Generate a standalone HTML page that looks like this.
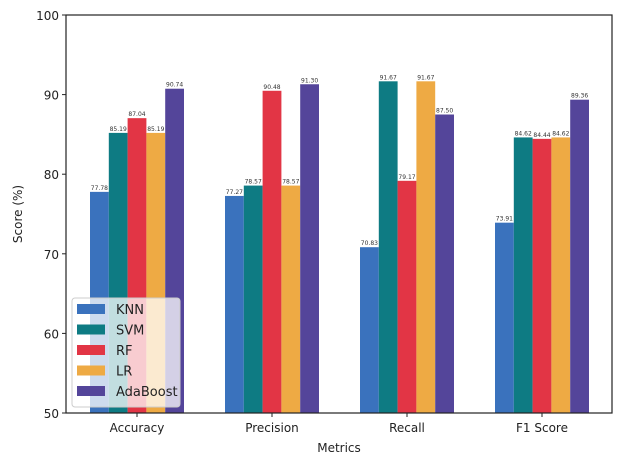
<!DOCTYPE html>
<html><head><meta charset="utf-8"><style>
body{margin:0;background:#fff;}
svg{font-family:"DejaVu Sans","Liberation Sans",sans-serif;}
</style></head><body>
<svg width="624" height="465">
<g id="plot"></g>
</svg>
<script>
const categories=["Accuracy","Precision","Recall","F1 Score"];
const seriesNames=["KNN","SVM","RF","LR","AdaBoost"];
const knn=[77.78,77.27,70.83,73.91];
const svm=[85.19,78.57,91.67,84.62];
const rf=[87.04,90.48,79.17,84.44];
const lr=[85.19,78.57,91.67,84.62];
const ada=[90.74,91.30,87.50,89.36];
const yTicks=[50,60,70,80,90,100];
const colors=["#3a72bd","#0e7b83","#e23545","#eeaa44","#54459a"];
const series=[knn,svm,rf,lr,ada];
const L=66,R=612,T=15,B=413,ymin=50,ymax=100;
const y=v=>B-(v-ymin)/(ymax-ymin)*(B-T);
const gap=135,c0=137,bw=18.8;
const x=i=>c0+i*gap;
const NS="http://www.w3.org/2000/svg";
const g=document.getElementById('plot');
function mk(t,a,txt){const e=document.createElementNS(NS,t);for(const k in a)e.setAttribute(k,a[k]);if(txt!==undefined)e.textContent=txt;g.appendChild(e);return e;}
series.forEach((s,si)=>{s.forEach((v,ci)=>{
 const bx=x(ci)+(si-2.5)*bw;
 const r=mk('rect',{x:bx,y:y(v),width:bw,height:B-y(v),fill:colors[si]});
 
 
 const t=mk('text',{x:bx+bw/2,y:y(v)-2,'font-size':6,'text-anchor':'middle',fill:'#333'},v.toFixed(2));
 
 
});});
const ax=mk('rect',{x:L,y:T,width:R-L,height:B-T,fill:'none',stroke:'#222','stroke-width':1.2});


yTicks.forEach(v=>{
 mk('line',{x1:L-4,x2:L,y1:y(v),y2:y(v),stroke:'#222'});
 const t=mk('text',{x:L-7,y:y(v)+5,'font-size':12,'text-anchor':'end',fill:'#222'},v);
 
 
});
categories.forEach((c,i)=>{
 mk('line',{x1:x(i),x2:x(i),y1:B,y2:B+4,stroke:'#222'});
 const t=mk('text',{x:x(i),y:B+19,'font-size':12,'text-anchor':'middle',fill:'#222'},c);
 
 
});
const xt=mk('text',{x:(L+R)/2,y:452,'font-size':12,'text-anchor':'middle',fill:'#222'},'Metrics');


const yt=mk('text',{x:22,y:(T+B)/2,'font-size':12,'text-anchor':'middle',fill:'#222',transform:`rotate(-90 22 ${(T+B)/2})`},'Score (%)');


const lg=mk('rect',{x:72,y:298,width:108,height:109,rx:3,fill:'rgba(255,255,255,0.75)',stroke:'#ccc'});


seriesNames.forEach((n,i)=>{
 const yy=309+i*20.5;
 mk('rect',{x:77,y:yy-5,width:28,height:10,fill:colors[i]});
 const t=mk('text',{x:116,y:yy+5,'font-size':13,fill:'#222'},n);
 
 
});
</script>
</body></html>
